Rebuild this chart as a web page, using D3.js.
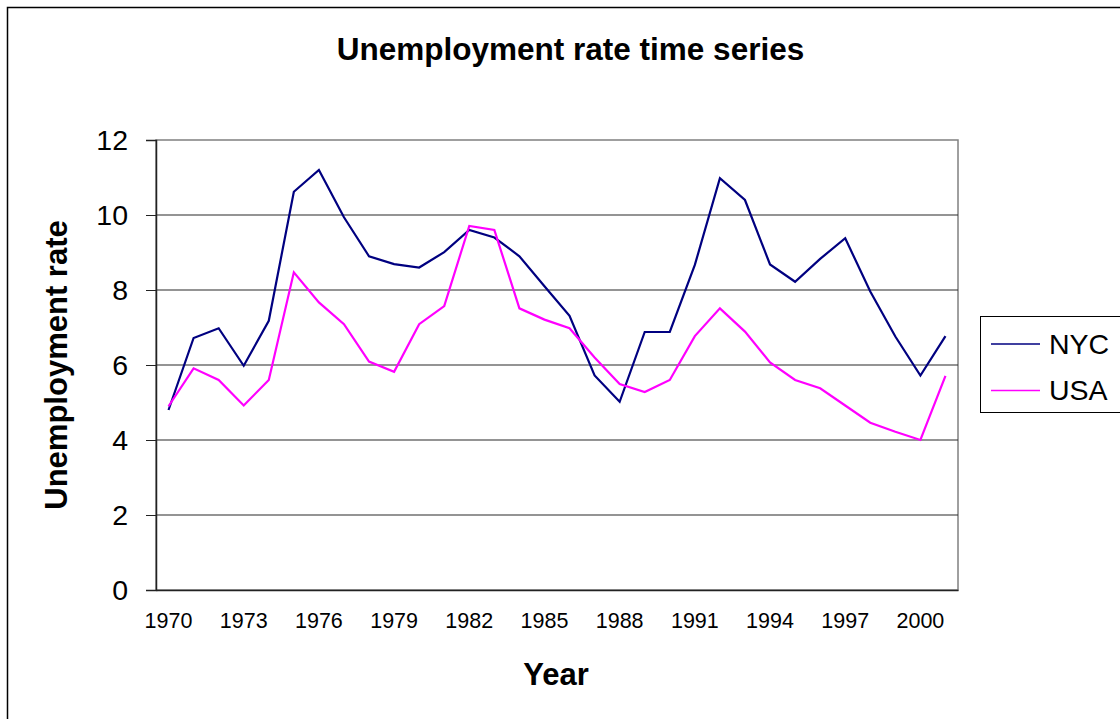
<!DOCTYPE html>
<html>
<head>
<meta charset="utf-8">
<script src="https://cdn.jsdelivr.net/npm/d3@7"></script>
<style>
    body { margin: 0; background: #fff; }
    svg { display: block; font-family: "Liberation Sans", Arial, sans-serif; }
</style>
</head>
<body>
<div id="chart"></div>
<script>
var years = d3.range(1970, 2002);
var nycRate = [4.8, 6.72, 6.98, 5.98, 7.18, 10.62, 11.2, 9.94, 8.9, 8.69, 8.6, 9.01, 9.6, 9.4, 8.9, 8.1,
    7.31, 5.72, 5.02, 6.88, 6.88, 8.67, 10.98, 10.4, 8.68, 8.22, 8.83, 9.38, 7.96, 6.76, 5.72, 6.77];
var usaRate = [4.9, 5.91, 5.6, 4.92, 5.6, 8.47, 7.67, 7.09, 6.09, 5.82, 7.09, 7.57, 9.71, 9.6, 7.51, 7.21,
    6.98, 6.2, 5.49, 5.28, 5.6, 6.77, 7.51, 6.89, 6.07, 5.6, 5.38, 4.92, 4.46, 4.22, 4.0, 5.71];
var yearLabels = d3.range(1970, 2002, 3);
var rateTicks = [0, 2, 4, 6, 8, 10, 12];

var series = [
    { name: 'NYC', values: nycRate, color: '#000080' },
    { name: 'USA', values: usaRate, color: '#ff00ff' }
];

var width = 1120, height = 719;
var plot = { left: 156, right: 958, top: 140, bottom: 590 };

var svg = d3.select('#chart').append('svg')
    .attr('width', width)
    .attr('height', height);

// chart frame, runs off the right and bottom edge
svg.append('rect')
    .attr('x', 7.5).attr('y', 7.5)
    .attr('width', width + 20).attr('height', height + 20)
    .attr('fill', '#fff').attr('stroke', '#000').attr('stroke-width', 1.5);

var x = d3.scaleBand().domain(years).range([plot.left, plot.right]);
var y = d3.scaleLinear().domain([0, 12]).range([plot.bottom, plot.top]);
var cx = function (yr) { return x(yr) + x.bandwidth() / 2; };

// plot area outline (top and right are lighter)
svg.append('rect')
    .attr('x', plot.left).attr('y', plot.top)
    .attr('width', plot.right - plot.left).attr('height', plot.bottom - plot.top)
    .attr('fill', '#fff').attr('stroke', '#808080').attr('stroke-width', 1.5);

svg.append('g')
    .selectAll('line')
    .data(rateTicks.filter(function (d) { return d > 0 && d < 12; }))
    .join('line')
    .attr('x1', plot.left).attr('x2', plot.right)
    .attr('y1', function (d) { return y(d); })
    .attr('y2', function (d) { return y(d); })
    .attr('stroke', '#2a2a2a').attr('stroke-width', 1.2);

var yAxis = svg.append('g')
    .attr('transform', 'translate(' + plot.left + ',0)')
    .call(d3.axisLeft(y).tickValues(rateTicks).tickSize(10).tickPadding(18));
yAxis.select('.domain').attr('stroke', '#222').attr('stroke-width', 1.5);
yAxis.selectAll('.tick line').attr('stroke', '#222');
yAxis.selectAll('text')
    .attr('font-size', 28.5)
    .attr('fill', '#000')
    .attr('font-family', '"Liberation Sans", Arial, sans-serif');

var xAxis = svg.append('g')
    .attr('transform', 'translate(0,' + plot.bottom + ')')
    .call(d3.axisBottom(x).tickValues(yearLabels).tickSize(0).tickPadding(23));
xAxis.select('.domain').attr('stroke', '#222').attr('stroke-width', 1.5);
xAxis.selectAll('text')
    .attr('font-size', 21.5)
    .attr('fill', '#000')
    .attr('font-family', '"Liberation Sans", Arial, sans-serif');

var line = d3.line()
    .x(function (d, i) { return cx(years[i]); })
    .y(function (d) { return y(d); });

svg.append('g')
    .selectAll('path')
    .data(series)
    .join('path')
    .attr('d', function (s) { return line(s.values); })
    .attr('fill', 'none')
    .attr('stroke', function (s) { return s.color; })
    .attr('stroke-width', 2.2);

svg.append('text')
    .attr('x', 570.5).attr('y', 60)
    .attr('text-anchor', 'middle')
    .attr('font-size', 31.5).attr('font-weight', 'bold')
    .text('Unemployment rate time series');

svg.append('text')
    .attr('x', 556).attr('y', 685)
    .attr('text-anchor', 'middle')
    .attr('font-size', 31).attr('font-weight', 'bold')
    .text('Year');

svg.append('text')
    .attr('transform', 'translate(67,365) rotate(-90)')
    .attr('text-anchor', 'middle')
    .attr('font-size', 31).attr('font-weight', 'bold')
    .text('Unemployment rate');

// legend
var legend = svg.append('g').attr('transform', 'translate(980,316)');
legend.append('rect')
    .attr('x', 0.5).attr('y', 0.5)
    .attr('width', 170).attr('height', 96)
    .attr('fill', '#fff').attr('stroke', '#000').attr('stroke-width', 1);

var item = legend.selectAll('.item')
    .data(series)
    .join('g')
    .attr('class', 'item')
    .attr('transform', function (d, i) { return 'translate(0,' + (28 + i * 46.5) + ')'; });
item.append('line')
    .attr('x1', 11).attr('x2', 60)
    .attr('stroke', function (d) { return d.color; })
    .attr('stroke-width', 1.5);
item.append('text')
    .attr('x', 69).attr('dy', '0.35em')
    .attr('font-size', 28.5)
    .text(function (d) { return d.name; });
</script>
</body>
</html>
